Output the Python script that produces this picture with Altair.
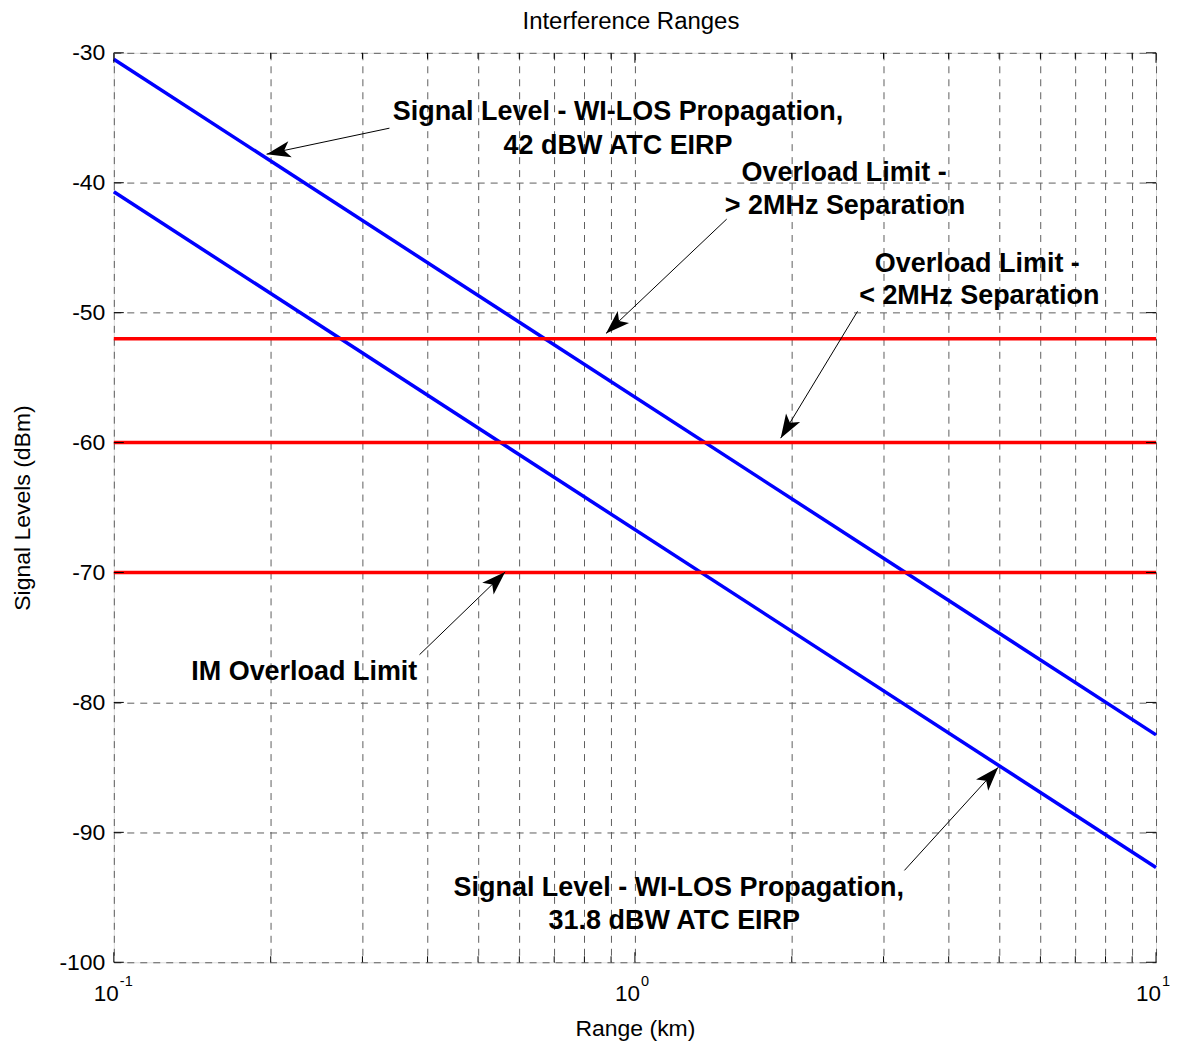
import math
import altair as alt
import pandas as pd

# ---------------- data ----------------
range_km = [0.1, 10.0]
sig_42dbw = [-30.5, -82.5]      # Signal level, 42 dBW ATC EIRP
sig_318dbw = [-40.7, -92.7]     # Signal level, 31.8 dBW ATC EIRP
limit_levels = [-52, -60, -70]  # overload limits

x_grid = [0.1, 0.2, 0.3, 0.4, 0.5, 0.6, 0.7, 0.8, 0.9,
          1, 2, 3, 4, 5, 6, 7, 8, 9, 10]
x_major = [0.1, 1, 10]
x_exp = ["-1", "0", "1"]
y_ticks = [-100, -90, -80, -70, -60, -50, -40, -30]

title_text = ["Interference Ranges"]

ann_text = ["Signal Level - WI-LOS Propagation,", "42 dBW ATC EIRP",
            "Overload Limit -", "> 2MHz Separation",
            "Overload Limit -", "< 2MHz Separation",
            "IM Overload Limit",
            "Signal Level - WI-LOS Propagation,", "31.8 dBW ATC EIRP"]
ann_km = [0.928, 0.928, 2.52, 2.53, 4.54, 4.58, 0.232, 1.214, 1.19]
ann_dbm = [-35.2, -37.8, -39.9, -42.4, -46.9, -49.3, -78.26, -94.93, -97.47]

arrow_tail_km = [0.338, 1.50, 2.674, 0.386, 3.29]
arrow_tail_dbm = [-35.8, -42.8, -49.9, -76.33, -92.93]
arrow_tip_km = [0.1964, 0.880, 1.904, 0.5636, 4.98]
arrow_tip_dbm = [-37.8, -51.6, -59.66, -69.96, -85.0]

# ---------------- layout ----------------
W, H = 1044, 911
FONT = "Liberation Sans"
xs = alt.Scale(type="log", domain=[0.1, 10], nice=False)
ys = alt.Scale(domain=[-100, -30], nice=False)

def px(k):
    return (math.log10(k) + 1) / 2 * W

def py(d):
    return (-30 - d) / 70 * H

# ---------------- tables ----------------
sig_df = pd.DataFrame({
    "km": range_km * 2,
    "dbm": sig_42dbw + sig_318dbw,
    "s": ["42"] * 2 + ["31.8"] * 2,
})
lim_df = pd.DataFrame({
    "km": range_km * len(limit_levels),
    "dbm": [v for v in limit_levels for _ in range_km],
    "s": [str(v) for v in limit_levels for _ in range_km],
})
ann_df = pd.DataFrame({"km": ann_km, "dbm": ann_dbm, "t": ann_text})
arr_df = pd.DataFrame({
    "km": arrow_tail_km, "dbm": arrow_tail_dbm,
    "km2": arrow_tip_km, "dbm2": arrow_tip_dbm,
})
arr_df["ang"] = [
    (math.degrees(math.atan2(px(b) - px(a), -(py(d) - py(c))))) % 360
    for a, c, b, d in zip(arrow_tail_km, arrow_tail_dbm, arrow_tip_km, arrow_tip_dbm)
]
xmaj_df = pd.DataFrame({"km": x_major, "e": x_exp})
xmin_df = pd.DataFrame({"km": [v for v in x_grid if v not in x_major]})
ytk_df = pd.DataFrame({"dbm": y_ticks})
title_df = pd.DataFrame({"t": title_text})

X = lambda f="km": alt.X(f"{f}:Q", scale=xs)
Y = lambda f="dbm": alt.Y(f"{f}:Q", scale=ys)

base = alt.Chart(sig_df).mark_line(color="#0000ff", strokeWidth=3.5).encode(
    x=alt.X("km:Q", scale=xs, title="Range (km)",
            axis=alt.Axis(values=x_grid, labels=False, ticks=False, domain=False,
                          grid=True, gridDash=[7, 6], gridColor="#5e5e5e", gridWidth=1,
                          titleFont=FONT, titleFontSize=23, titleFontWeight="normal",
                          titleColor="black", titleBaseline="alphabetic",
                          titleX=W / 2, titleY=73)),
    y=alt.Y("dbm:Q", scale=ys, title="Signal Levels (dBm)",
            axis=alt.Axis(values=y_ticks, ticks=False, domain=False, grid=True,
                          gridDash=[7, 6], gridColor="#5e5e5e", gridWidth=1,
                          labelExpr="'' + datum.value",
                          labelFont=FONT, labelFontSize=23, labelColor="black",
                          labelPadding=9,
                          titleFont=FONT, titleFontSize=23, titleFontWeight="normal",
                          titleColor="black", titleBaseline="alphabetic",
                          titleAngle=270, titleX=-84, titleY=H / 2)),
    detail="s:N",
)

limits = alt.Chart(lim_df).mark_line(color="#ff0000", strokeWidth=3.5).encode(
    x=X(), y=Y(), detail="s:N")

# inner ticks
tick_maj_b = alt.Chart(xmaj_df).mark_rule(color="black").encode(
    x=X(), y=alt.value(H), y2=alt.value(H - 10))
tick_maj_t = alt.Chart(xmaj_df).mark_rule(color="black").encode(
    x=X(), y=alt.value(0), y2=alt.value(10))
tick_min_b = alt.Chart(xmin_df).mark_rule(color="black").encode(
    x=X(), y=alt.value(H), y2=alt.value(H - 6))
tick_min_t = alt.Chart(xmin_df).mark_rule(color="black").encode(
    x=X(), y=alt.value(0), y2=alt.value(6))
tick_y_l = alt.Chart(ytk_df).mark_rule(color="black").encode(
    y=Y(), x=alt.value(0), x2=alt.value(10))
tick_y_r = alt.Chart(ytk_df).mark_rule(color="black").encode(
    y=Y(), x=alt.value(W), x2=alt.value(W - 10))

# x tick labels 10^n
lab10 = alt.Chart(xmaj_df).mark_text(
    text="10", align="right", baseline="alphabetic", dx=5, font=FONT,
    fontSize=22.5, color="black").encode(x=X(), y=alt.value(H + 39))
labexp = alt.Chart(xmaj_df).mark_text(
    align="left", baseline="alphabetic", dx=6, font=FONT,
    fontSize=14.5, color="black").encode(x=X(), y=alt.value(H + 24), text="e:N")

# chart title
title = alt.Chart(title_df).mark_text(
    align="center", baseline="alphabetic", font=FONT, fontSize=24,
    color="black").encode(x=alt.value(W / 2 - 4), y=alt.value(-24), text="t:N")

# annotations
ann = alt.Chart(ann_df).mark_text(
    font=FONT, fontSize=27, fontWeight="bold", align="center",
    baseline="alphabetic", color="black").encode(x=X(), y=Y(), text="t:N")
shafts = alt.Chart(arr_df).mark_rule(color="black", strokeWidth=1).encode(
    x=X(), y=Y(), x2="km2:Q", y2="dbm2:Q")
heads = alt.Chart(arr_df).mark_point(
    shape="M0,0 L0.55,1.6 L0,1.2 L-0.55,1.6 Z", filled=True, color="black",
    opacity=1, size=900, strokeWidth=0).encode(
    x=X("km2"), y=Y("dbm2"), angle=alt.Angle("ang:Q", scale=None))

chart = alt.layer(
    base, limits, tick_maj_b, tick_maj_t, tick_min_b, tick_min_t,
    tick_y_l, tick_y_r, lab10, labexp, title, shafts, heads, ann,
).properties(
    width=W, height=H,
    autosize=alt.AutoSizeParams(type="none"),
    padding={"left": 106, "top": 44, "right": 14, "bottom": 83},
).configure_view(stroke="black", strokeWidth=1.5).configure(background="white")

chart.save("out.html", embed_options={"renderer": "svg", "actions": False})
